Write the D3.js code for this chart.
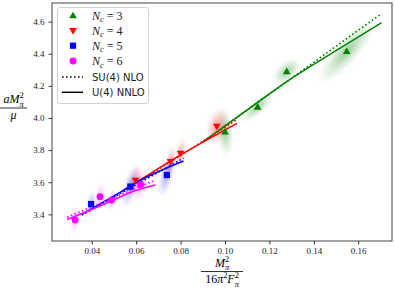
<!DOCTYPE html>
<html>
<head>
<meta charset="utf-8">
<script src="https://cdn.jsdelivr.net/npm/d3@7"></script>
<style>
  body { margin: 0; background: #fff; }
  svg { display: block; }
</style>
</head>
<body>
<svg id="chart" width="395" height="290"></svg>
<script>
// tick values
const xTicks = [0.04, 0.06, 0.08, 0.10, 0.12, 0.14, 0.16];
const yTicks = [3.4, 3.6, 3.8, 4.0, 4.2, 4.4, 4.6];

// central values for each Nc
const nc3X = [0.1000, 0.1147, 0.1278, 0.1548];
const nc3Y = [3.913, 4.068, 4.289, 4.414];
const nc4X = [0.0597, 0.0755, 0.0800, 0.0963];
const nc4Y = [3.612, 3.728, 3.780, 3.948];
const nc5X = [0.0397, 0.0574, 0.0738];
const nc5Y = [3.464, 3.573, 3.645];
const nc6X = [0.0325, 0.0437, 0.0490, 0.0620];
const nc6Y = [3.365, 3.510, 3.489, 3.585];

// spread of the bootstrap samples (sigma x, sigma y, correlation)
const nc3SigX = [0.0014, 0.0027, 0.0023, 0.0048];
const nc3SigY = [0.056, 0.034, 0.031, 0.075];
const nc3Rho  = [-0.2, 0.8, 0.5, 0.85];
const nc4SigX = [0.0011, 0.0009, 0.0009, 0.0018];
const nc4SigY = [0.037, 0.037, 0.037, 0.043];
const nc4Rho  = [0.5, 0.5, 0.5, 0.3];
const nc5SigX = [0.0007, 0.0014, 0.0014];
const nc5SigY = [0.031, 0.050, 0.050];
const nc5Rho  = [0.4, 0.6, 0.6];
const nc6SigX = [0.0007, 0.0007, 0.0007, 0.0011];
const nc6SigY = [0.031, 0.031, 0.025, 0.037];
const nc6Rho  = [0.3, 0.3, 0.3, 0.5];

// U(4) NNLO fits (solid)
const nnlo3X = [0.090, 0.110, 0.1278, 0.150, 0.1705];
const nnlo3Y = [3.851, 4.050, 4.227, 4.420, 4.594];
const nnlo4X = [0.054, 0.060, 0.080, 0.1054];
const nnlo4Y = [3.545, 3.598, 3.770, 3.967];
const nnlo5X = [0.0355, 0.050, 0.060, 0.0813];
const nnlo5Y = [3.400, 3.515, 3.598, 3.732];
const nnlo6X = [0.0289, 0.045, 0.060, 0.0687];
const nnlo6Y = [3.368, 3.460, 3.550, 3.583];

// SU(4) NLO fits (dotted)
const nlo3X = [0.090, 0.1703];
const nlo3Y = [3.851, 4.648];
const nlo4X = [0.054, 0.1054];
const nlo4Y = [3.540, 3.990];
const nlo5X = [0.0355, 0.0813];
const nlo5Y = [3.395, 3.750];
const nlo6X = [0.0289, 0.0687];
const nlo6Y = [3.382, 3.614];

const ncLabels = ["3", "4", "5", "6"];

const series = [
  { x: nc3X, y: nc3Y, sx: nc3SigX, sy: nc3SigY, r: nc3Rho, fx: nnlo3X, fy: nnlo3Y, dx: nlo3X, dy: nlo3Y, color: "#008000", marker: "tri" },
  { x: nc4X, y: nc4Y, sx: nc4SigX, sy: nc4SigY, r: nc4Rho, fx: nnlo4X, fy: nnlo4Y, dx: nlo4X, dy: nlo4Y, color: "#ff0000", marker: "tridown" },
  { x: nc5X, y: nc5Y, sx: nc5SigX, sy: nc5SigY, r: nc5Rho, fx: nnlo5X, fy: nnlo5Y, dx: nlo5X, dy: nlo5Y, color: "#0000ff", marker: "square" },
  { x: nc6X, y: nc6Y, sx: nc6SigX, sy: nc6SigY, r: nc6Rho, fx: nnlo6X, fy: nnlo6Y, dx: nlo6X, dy: nlo6Y, color: "#ff00ff", marker: "circle" }
];

const margin = { top: 3, right: 3, bottom: 49, left: 52 };
const W = 395, H = 290;
const width = W - margin.left - margin.right;
const height = H - margin.top - margin.bottom;

const svg = d3.select("#chart");
const defs = svg.append("defs");
defs.append("filter").attr("id", "blur")
  .attr("x", "-50%").attr("y", "-50%").attr("width", "200%").attr("height", "200%")
  .append("feGaussianBlur").attr("stdDeviation", 1.2);

series.forEach((s, i) => {
  let grad = defs.append("radialGradient").attr("id", "cloud" + i);
  grad.append("stop").attr("offset", "0%").attr("stop-color", s.color).attr("stop-opacity", 0.4);
  grad.append("stop").attr("offset", "55%").attr("stop-color", s.color).attr("stop-opacity", 0.15);
  grad.append("stop").attr("offset", "100%").attr("stop-color", s.color).attr("stop-opacity", 0);
});

const x = d3.scaleLinear().domain([0.0221, 0.1752]).range([0, width]);
const y = d3.scaleLinear().domain([3.234, 4.716]).range([height, 0]);

const g = svg.append("g").attr("transform", "translate(" + margin.left + "," + margin.top + ")");

// bootstrap clouds
const kx = Math.abs(x(1) - x(0)), ky = Math.abs(y(1) - y(0));
series.forEach((s, i) => {
  s.x.forEach((xv, j) => {
    let a = s.sx[j] * kx, b = s.sy[j] * ky;
    let sxx = a * a, syy = b * b, sxy = -s.r[j] * a * b;
    let th = 0.5 * Math.atan2(2 * sxy, sxx - syy);
    let m = (sxx + syy) / 2, d = Math.sqrt(((sxx - syy) / 2) ** 2 + sxy * sxy);
    let rx = 2.7 * Math.sqrt(m + d), ry = 2.7 * Math.sqrt(Math.max(m - d, 0.3));
    g.append("ellipse")
      .attr("transform", "translate(" + x(xv) + "," + y(s.y[j]) + ") rotate(" + (th * 180 / Math.PI) + ")")
      .attr("rx", rx).attr("ry", ry)
      .attr("fill", "url(#cloud" + i + ")")
      .attr("filter", "url(#blur)");
  });
});

// fit lines
const line = d3.line().x(d => x(d[0])).y(d => y(d[1])).curve(d3.curveMonotoneX);
series.forEach(s => {
  g.append("path")
    .datum(s.dx.map((v, k) => [v, s.dy[k]]))
    .attr("fill", "none").attr("stroke", s.color)
    .attr("stroke-width", 1.6).attr("stroke-dasharray", "1.6,2.4")
    .attr("d", line);
  g.append("path")
    .datum(s.fx.map((v, k) => [v, s.fy[k]]))
    .attr("fill", "none").attr("stroke", s.color)
    .attr("stroke-width", 1.5)
    .attr("d", line);
});

// markers
function marker(sel, type, color) {
  if (type === "tri") sel.append("path").attr("d", "M0,-4L3.8,2.6L-3.8,2.6Z").attr("fill", color);
  else if (type === "tridown") sel.append("path").attr("d", "M0,4L3.8,-2.6L-3.8,-2.6Z").attr("fill", color);
  else if (type === "square") sel.append("rect").attr("x", -3.1).attr("y", -3.1).attr("width", 6.2).attr("height", 6.2).attr("fill", color);
  else sel.append("circle").attr("r", 3.4).attr("fill", color);
}
series.forEach(s => {
  s.x.forEach((xv, j) => {
    marker(g.append("g").attr("transform", "translate(" + x(xv) + "," + y(s.y[j]) + ")"), s.marker, s.color);
  });
});

// frame and axes
const tickFont = "'Liberation Serif', 'DejaVu Serif', serif";
g.append("rect").attr("width", width).attr("height", height)
  .attr("fill", "none").attr("stroke", "#555").attr("stroke-width", 1.1);

const xAxis = g.append("g").attr("transform", "translate(0," + height + ")")
  .call(d3.axisBottom(x).tickValues(xTicks).tickFormat(d3.format(".2f")).tickSize(3.5).tickPadding(3));
const yAxis = g.append("g")
  .call(d3.axisLeft(y).tickValues(yTicks).tickFormat(d3.format(".1f")).tickSize(3.5).tickPadding(4));
[xAxis, yAxis].forEach(a => {
  a.select(".domain").remove();
  a.selectAll(".tick line").attr("stroke", "#333");
  a.selectAll(".tick text").attr("font-family", tickFont).attr("font-size", 9).attr("fill", "#222");
});

// math text: pieces are [text, kind] with kind "i" italic, "n" normal, "sup", "sub" (sub stacks under the previous sup)
function mathText(parent, xPos, yPos, pieces, size, anchor) {
  let t = parent.append("text").attr("x", xPos).attr("y", yPos)
    .attr("font-family", tickFont).attr("font-size", size)
    .attr("text-anchor", anchor || "start");
  let shift = 0, supW = 0;
  pieces.forEach(([str, kind]) => {
    let ts = t.append("tspan").text(str);
    if (kind === "sup") {
      ts.attr("font-size", size * 0.7).attr("dy", -size * 0.4 - shift);
      shift = -size * 0.4;
      supW = str.length * size * 0.7 * 0.5;
    } else if (kind === "sub") {
      ts.attr("font-size", size * 0.7).attr("font-style", "italic")
        .attr("dx", -supW).attr("dy", size * 0.3 - shift);
      shift = size * 0.3;
    } else {
      ts.attr("font-style", kind === "i" ? "italic" : "normal");
      if (shift !== 0) { ts.attr("dy", -shift); shift = 0; }
    }
  });
  return t;
}

// x label
const xl = svg.append("g");
mathText(xl, 222, 266.5, [["M", "i"], ["2", "sup"], ["π", "sub"]], 12, "middle");
xl.append("line").attr("x1", 201).attr("x2", 243).attr("y1", 271.5).attr("y2", 271.5).attr("stroke", "#000").attr("stroke-width", 0.8);
mathText(xl, 222, 283, [["16", "n"], ["π", "i"], ["2", "sup"], ["F", "i"], ["2", "sup"], ["π", "sub"]], 12, "middle");

// y label
const yl = svg.append("g");
mathText(yl, 13.5, 103, [["aM", "i"], ["2", "sup"], ["π", "sub"]], 12, "middle");
yl.append("line").attr("x1", 0).attr("x2", 27).attr("y1", 108).attr("y2", 108).attr("stroke", "#000").attr("stroke-width", 0.8);
yl.append("text").attr("x", 13.5).attr("y", 119).attr("text-anchor", "middle").attr("font-family", tickFont).attr("font-size", 12).attr("font-style", "italic").text("μ");

// legend
const lg = svg.append("g");
lg.append("rect").attr("x", 57.5).attr("y", 7.5).attr("width", 91).attr("height", 96).attr("rx", 2.5)
  .attr("fill", "#fff").attr("fill-opacity", 0.8).attr("stroke", "#d0d0d0").attr("stroke-width", 1);
const rowY = [15.7, 30.7, 45.7, 61, 77, 92.3];
series.forEach((s, i) => {
  marker(lg.append("g").attr("transform", "translate(73," + rowY[i] + ")"), s.marker, s.color);
  let tx = lg.append("text").attr("x", 92).attr("y", rowY[i] + 4)
    .attr("font-family", tickFont).attr("font-size", 12).attr("fill", "#222");
  tx.append("tspan").attr("font-style", "italic").text("N");
  tx.append("tspan").attr("font-style", "italic").attr("font-size", 8.5).attr("dy", 2.5).text("c");
  tx.append("tspan").attr("dy", -2.5).text(" = " + ncLabels[i]);
});
lg.append("line").attr("x1", 62).attr("x2", 83).attr("y1", rowY[4]).attr("y2", rowY[4])
  .attr("stroke", "#000").attr("stroke-width", 1.5).attr("stroke-dasharray", "1.6,2.4");
lg.append("line").attr("x1", 62).attr("x2", 83).attr("y1", rowY[5]).attr("y2", rowY[5])
  .attr("stroke", "#000").attr("stroke-width", 1.5);
lg.append("text").attr("x", 92).attr("y", rowY[4] + 3.8).attr("font-family", "'DejaVu Sans', sans-serif").attr("font-size", 10).attr("fill", "#222").text("SU(4) NLO");
lg.append("text").attr("x", 92).attr("y", rowY[5] + 3.8).attr("font-family", "'DejaVu Sans', sans-serif").attr("font-size", 10).attr("fill", "#222").text("U(4) NNLO");
</script>
</body>
</html>
